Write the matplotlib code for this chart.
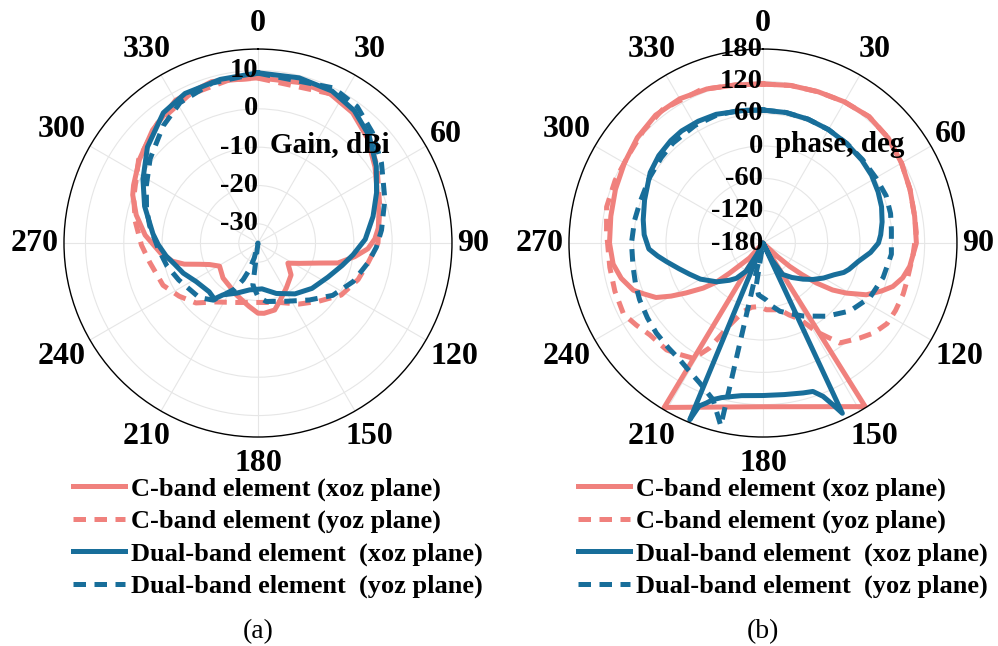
import numpy as np
import matplotlib.pyplot as plt

plt.rcParams['font.family'] = ['Liberation Serif', 'DejaVu Serif']

# ---------------- (a) gain, dBi ----------------
gain_c_xoz_theta = [0, 15, 26, 36, 46, 57, 67, 77, 83, 88, 93, 98, 104, 108, 116, 124, 134, 148, 160, 166,
                    175, 180, 188, 194, 203, 213, 225, 239, 246, 250, 254, 258, 264, 274, 283, 291, 295, 305,
                    317, 330, 344, 360]
gain_c_xoz = [8.1, 8.3, 8.2, 7.0, 4.6, 1.4, -1.2, -2.6, -3.4, -4.5, -6.3, -9.5, -13.5, -18.1, -22.9, -25.6,
              -23.0, -21.1, -18.7, -17.0, -16.6, -16.7, -18.3, -19.3, -20.4, -21.5, -22.1, -23.3, -21.2, -18.8,
              -15.0, -12.2, -9.5, -5.5, -2.4, 0.0, 0.8, 2.8, 5.3, 8.0, 8.8, 8.1]

gain_c_yoz_theta = [0, 26, 36, 46, 57, 73, 90, 100, 110, 122, 134, 146, 160, 180, 200, 216, 226, 236, 246,
                    260, 269, 280, 290, 305, 320, 335, 350, 360]
gain_c_yoz = [8.0, 8.3, 7.2, 5.0, 2.0, -1.8, -3.7, -5.8, -7.2, -9.4, -13.1, -15.8, -18.5, -19.5, -18.5,
              -16.0, -12.5, -10.2, -7.9, -6.3, -4.6, -2.5, -0.5, 3.0, 5.8, 7.6, 8.2, 8.0]

gain_d_xoz_theta = [0, 14, 26, 36, 46, 57, 67, 77, 88, 97, 105, 116, 130, 144, 160, 175, 185, 190, 203, 214,
                    218, 225, 238, 248, 256, 262, 269, 275, 288, 299, 311, 324, 334, 347, 360]
gain_d_xoz = [9.4, 9.4, 9.1, 7.7, 5.3, 1.8, -1.4, -4.2, -7.0, -10.0, -12.3, -14.7, -16.6, -18.6, -21.0,
              -23.0, -22.8, -22.6, -20.8, -18.7, -16.5, -17.0, -16.0, -14.0, -12.5, -10.8, -9.0, -7.5, -3.9,
              -0.7, 3.2, 7.0, 8.4, 8.8, 9.4]

gain_d_yoz_theta = [0, 26, 36, 46, 57, 71, 84, 92, 100, 112, 125, 138, 154, 172, 180, 187, 190, 194, 198,
                    202, 207, 218, 227, 239, 245, 256, 267, 279, 287, 297, 308, 321, 331, 344, 360]
gain_d_yoz = [9.3, 10.0, 9.0, 6.5, 3.4, 0.0, -2.6, -4.1, -5.8, -8.2, -11.2, -15.0, -18.1, -19.6, -21.0,
              -24.0, -35.0, -31.0, -27.6, -24.7, -21.5, -16.1, -14.1, -13.1, -12.2, -10.5, -8.9, -6.4, -4.6,
              -2.3, 0.7, 4.3, 6.9, 8.4, 9.3]

# ---------------- (b) phase, deg ----------------
ph_c_xoz_theta = [0, 10, 20, 30, 40, 50, 60, 70, 80, 90, 99, 104, 108.5, 112, 116.6, 121, 124, 126.8, 129,
                  131.2, 133, 135, 148, 180, 211, 213, 222, 225, 228, 230, 233, 237, 240, 243, 247, 250, 256,
                  262, 270, 280, 290, 300, 310, 320, 330, 340, 350, 360]
ph_c_xoz = [115.1, 116.9, 118.8, 122.5, 126.2, 123.4, 116.9, 110.4, 105.8, 104.7, 95.8, 87.2, 74.2, 57.5,
            34.5, 0.4, -24.1, -56.2, -87.2, -114.1, -142.9, -180, 178, 123.8, 176, -180, -143, -128, -96,
            -67, -41, -10, 17, 42.7, 61, 76, 91, 100.8, 104.8, 106.7, 111.3, 116.9, 124.3, 129.9, 129,
            124.3, 117.8, 115.1]

ph_c_yoz_theta = [0, 10, 20, 30, 40, 50, 60, 70, 80, 86, 94.5, 105, 110, 117, 123, 129, 134.5, 142.5, 149,
                  154, 160, 166, 177, 183, 190, 196, 202, 207, 211, 217, 222, 231, 237, 243, 252, 261, 274,
                  283, 293, 303, 313, 323, 338, 350, 360]
ph_c_yoz = [115.1, 116.9, 118.8, 122.5, 126.2, 123.4, 116.9, 110.4, 105.8, 105.2, 99.3, 96.3, 96.9, 96,
            94.6, 85, 71.6, 53.8, 11.7, -22.3, -38, -52.3, -56, -62, -59, -47.7, -16.3, 38.6, 69.8, 78.5,
            87, 90.5, 100, 110.4, 109, 107.8, 111, 117.8, 118, 118, 124.3, 129.9, 127, 117.8, 115.1]

ph_d_xoz_theta = [0, 10, 20, 30, 40, 50, 58, 66, 73, 80, 86, 90, 95, 101, 107, 110, 114, 120, 126, 132, 140,
                  148, 152, 154, 155, 156.6, 158.6, 161.4, 165, 172, 180, 188, 191, 195, 197.7, 199.5, 201.4,
                  202.5, 203, 208, 211, 217, 222, 230, 240, 247, 253, 259, 263, 267, 274, 281, 290, 302, 310,
                  318, 324, 332, 340, 351, 360]
ph_d_xoz = [66.8, 65.9, 64.6, 63.1, 61.2, 59.4, 57.5, 53.8, 50.1, 44.5, 39, 34.3, 20.4, 0, -13, -20.4, -35.3,
            -50.1, -65, -79.8, -96.5, -111.3, -142.9, -180, 168.6, 147, 125.6, 110.6, 108, 104, 103, 106,
            110, 117, 125, 135, 145, 175, -180, -156, -119, -98, -87, -68, -46, -32, -17, 2, 17, 32, 41,
            46.4, 53.8, 66.8, 72.4, 75.7, 77, 76, 74.2, 68.7, 66.8]

ph_d_yoz_theta = [0, 10, 20, 30, 40, 50, 60, 69, 77, 84, 95, 106, 117, 128, 139, 151, 158, 166, 172, 177,
                  185, 189, 191, 193, 197.7, 204.3, 210, 215.5, 222, 229.8, 237, 245.3, 252, 259.8, 270,
                  280, 288, 300, 310, 318, 330, 340, 350, 360]
ph_d_yoz = [66.8, 66, 64.6, 63, 61.5, 61, 62, 64.8, 63, 59.6, 59.2, 52, 42.7, 24.9, 0, -25, -38, -49.4, -62,
            -74.6, -83.5, -102, -180, 168, 125, 105, 94, 86, 82, 79, 75.5, 72, 68.5, 65, 64, 62, 60.5, 63,
            66.5, 69.6, 72, 72.4, 70, 66.8]

legend_labels = ['C-band element (xoz plane)', 'C-band element (yoz plane)',
                 'Dual-band element  (xoz plane)', 'Dual-band element  (yoz plane)']
theta_ticks = list(range(0, 360, 30))

salmon = '#F0817D'
blue = '#186E9A'
dash = (2.5, 1.7)
PX = 72 / 100  # points per pixel

fig = plt.figure(figsize=(9.98, 6.46), dpi=100)


def panel(left, series, rlim, rticks, rname, letter):
    ax = fig.add_axes([left, 0.3235, 0.3888, 0.6006], projection='polar')
    ax.set_theta_zero_location('N')
    ax.set_theta_direction(-1)
    handles = []
    for (th, vals), col, ls in zip(series, [salmon, salmon, blue, blue], ['-', '--', '-', '--']):
        ln, = ax.plot(np.deg2rad(th), vals, color=col, lw=3.6, ls=ls)
        if ls == '--':
            ln.set_dashes(dash)
        handles.append(ln)
    ax.set_ylim(*rlim)
    ax.set_yticks(rticks)
    ax.set_yticklabels([])
    ax.set_thetagrids(theta_ticks, [''] * len(theta_ticks))
    ax.set_xticks(np.deg2rad(np.arange(0, 360, 7.5)), minor=True)
    ax.tick_params(axis='x', which='both', direction='in', length=4, width=0.8, color='black')
    ax.grid(color='#e6e6e6', lw=0.8)
    ax.spines['polar'].set_linewidth(1.0)

    # angle labels round the rim
    for t in theta_ticks:
        a = np.deg2rad(t)
        sx, sy = np.sin(a), np.cos(a)
        w, h = 16 * len(str(t)), 42
        ext = min(w / 2 / abs(sx) if abs(sx) > 1e-6 else 1e9, h / 2 / abs(sy) if abs(sy) > 1e-6 else 1e9)
        d = (5 + ext) * PX
        ax.annotate(str(t), xy=(a, rlim[1]), xytext=(d * sx, d * sy), textcoords='offset points',
                    ha='center', va='center', fontsize=23, fontweight='bold', annotation_clip=False)

    for r in rticks:
        ax.text(0, r, str(r), ha='right', va='center', fontsize=20.5, fontweight='bold')
    mid = (rlim[0] + rlim[1]) / 2
    ax.annotate(rname, xy=(0, mid), xytext=(9, 1), textcoords='offset points',
                ha='left', va='center', fontsize=21, fontweight='bold')
    ax.legend(handles, legend_labels, loc='upper left', bbox_to_anchor=(left + 0.009, 0.262),
              bbox_transform=fig.transFigure, frameon=False, handlelength=1.97, handletextpad=0.23,
              labelspacing=0.33, borderpad=0, borderaxespad=0,
              prop=dict(weight='bold', size=19))
    fig.text(left + 0.3888 / 2, 1 - 632 / 646, letter, ha='center', va='center', fontsize=20)
    return ax


panel(0.0641, [(gain_c_xoz_theta, gain_c_xoz), (gain_c_yoz_theta, gain_c_yoz),
               (gain_d_xoz_theta, gain_d_xoz), (gain_d_yoz_theta, gain_d_yoz)],
      (-35, 15.6), [-30, -20, -10, 0, 10], 'Gain, dBi', '(a)')
panel(0.5701, [(ph_c_xoz_theta, ph_c_xoz), (ph_c_yoz_theta, ph_c_yoz),
               (ph_d_xoz_theta, ph_d_xoz), (ph_d_yoz_theta, ph_d_yoz)],
      (-180, 180), [-180, -120, -60, 0, 60, 120, 180], 'phase, deg', '(b)')

fig.savefig('out.png', dpi=100)
